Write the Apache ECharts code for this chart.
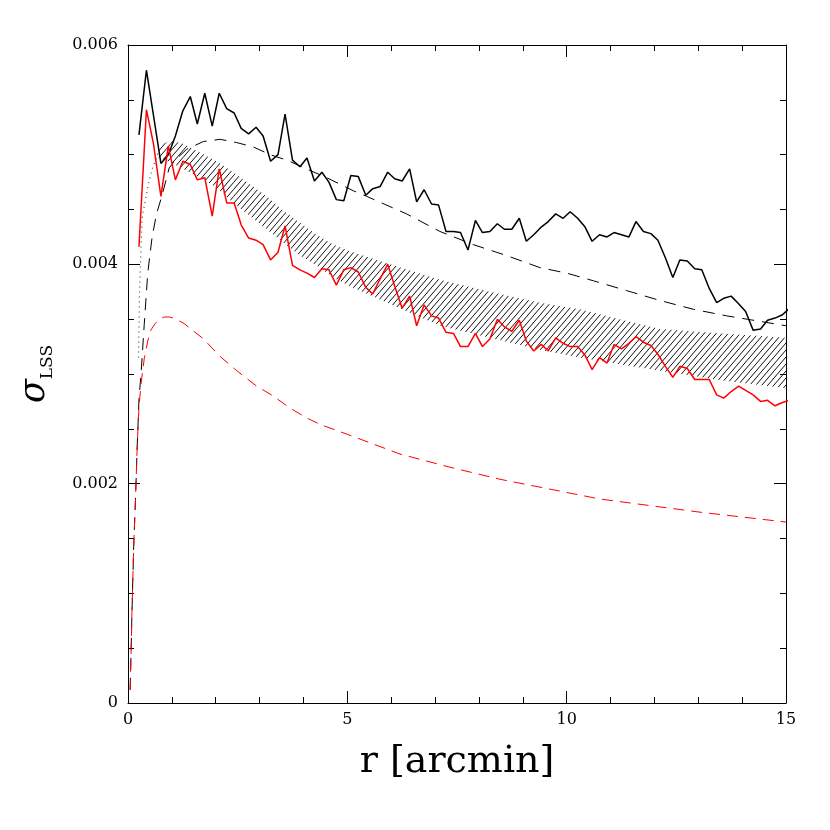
<!DOCTYPE html>
<html><head><meta charset="utf-8">
<script src="https://cdn.jsdelivr.net/npm/echarts@6/dist/echarts.min.js"></script>
<style>html,body{margin:0;padding:0;background:#fff}#c{width:830px;height:830px}</style>
</head><body><div id="c"></div>
<script>
// radii of the measured profiles [arcmin]
const rSim = [0.25,0.42,0.58,0.75,0.92,1.08,1.25,1.42,1.58,1.75,1.92,2.08,2.25,2.42,2.58,2.75,2.92,3.08,3.25,3.42,
3.58,3.75,3.92,4.08,4.25,4.42,4.58,4.75,4.92,5.08,5.25,5.42,5.58,5.75,5.92,6.08,6.25,6.42,6.58,6.75,
6.92,7.08,7.25,7.42,7.58,7.75,7.92,8.08,8.25,8.42,8.58,8.75,8.92,9.08,9.25,9.42,9.58,9.75,9.92,10.08,
10.25,10.42,10.58,10.75,10.92,11.08,11.25,11.42,11.58,11.75,11.92,12.08,12.25,12.42,12.58,12.75,12.92,13.08,13.25,13.42,
13.58,13.75,13.92,14.08,14.25,14.42,14.58,14.75,14.92,15.08];
// black solid
const sigmaBlack = [0.00518,0.00577,0.00536,0.00492,0.00500,0.00517,0.00540,0.00553,0.00528,0.00556,
0.00526,0.00556,0.00542,0.00538,0.00524,0.00519,0.00525,0.00517,0.00494,0.00500,
0.00537,0.00495,0.00489,0.00497,0.00476,0.00484,0.00475,0.00459,0.00458,0.00481,
0.00480,0.00463,0.00469,0.00471,0.00484,0.00478,0.00476,0.00487,0.00457,0.00468,
0.00455,0.00454,0.00430,0.00430,0.00429,0.00413,0.00440,0.00429,0.00430,0.00437,
0.00432,0.00432,0.00442,0.00421,0.00427,0.00434,0.00439,0.00446,0.00442,0.00448,
0.00442,0.00434,0.00421,0.00427,0.00425,0.00429,0.00427,0.00425,0.00439,0.00430,
0.00428,0.00422,0.00406,0.00388,0.00404,0.00403,0.00396,0.00395,0.00378,0.00365,
0.00369,0.00371,0.00364,0.00357,0.00340,0.00341,0.00349,0.00351,0.00354,0.00360];
// red solid
const sigmaRed = [0.00416,0.00541,0.00510,0.00462,0.00508,0.00477,0.00494,0.00491,0.00477,0.00479,
0.00444,0.00487,0.00456,0.00456,0.00436,0.00424,0.00422,0.00418,0.00404,0.00411,
0.00435,0.00399,0.00395,0.00392,0.00388,0.00396,0.00395,0.00381,0.00395,0.00397,
0.00393,0.00379,0.00373,0.00387,0.00400,0.00380,0.00360,0.00371,0.00344,0.00363,
0.00353,0.00351,0.00338,0.00337,0.00325,0.00325,0.00337,0.00325,0.00332,0.00350,
0.00343,0.00339,0.00349,0.00330,0.00321,0.00327,0.00321,0.00333,0.00328,0.00325,
0.00325,0.00317,0.00304,0.00315,0.00310,0.00327,0.00323,0.00328,0.00334,0.00329,
0.00326,0.00318,0.00307,0.00297,0.00307,0.00305,0.00295,0.00295,0.00295,0.00281,
0.00278,0.00284,0.00289,0.00285,0.00281,0.00275,0.00276,0.00271,0.00274,0.00276];
// black dashed model
const modelBlackR = [0.05,0.09,0.13,0.17,0.21,0.25,0.30,0.37,0.45,0.55,0.65,0.77,0.94,1.10,1.34,1.72,2.10,2.48,2.86,3.24,
3.62,4.07,4.53,5.14,5.44,6.35,7.11,7.87,8.63,9.39,10.0,10.61,11.37,12.13,12.89,13.65,14.41,15.0];
const modelBlack = [0.00012,0.00082,0.00143,0.00185,0.00234,0.00277,0.00302,0.00345,0.00392,0.00425,0.00446,0.00462,0.00488,0.00496,0.00505,0.00512,0.00514,0.00511,0.00507,0.00500,
0.00495,0.00487,0.00479,0.00467,0.00462,0.00446,0.00430,0.00418,0.00408,0.00397,0.00392,0.00385,0.00376,0.00367,0.00359,0.00353,0.00348,0.00344];
// red dashed model
const modelRedR = [0.05,0.09,0.13,0.17,0.21,0.25,0.30,0.37,0.45,0.52,0.62,0.72,0.83,0.95,1.09,1.28,1.72,2.10,2.48,2.93,
3.31,3.69,4.07,4.38,5.0,6.2,7.34,8.48,10.0,10.76,13.04,15.0];
const modelRed = [0.00012,0.00082,0.00143,0.00185,0.00234,0.00270,0.00292,0.00314,0.00330,0.00340,0.00346,0.00350,0.00352,0.00352,0.00350,0.00346,0.00332,0.00316,0.00303,0.00289,
0.00280,0.00269,0.00260,0.00254,0.00245,0.00227,0.00215,0.00204,0.00192,0.00186,0.00174,0.00165];
// hatched band
const bandR  = [0.70,0.96,1.26,1.64,2.02,2.40,2.78,3.16,3.54,3.92,4.30,4.68,5.06,5.74,7.11,8.25,9.39,10.30,11.21,12.13,13.56,15.0];
const bandHi = [0.00508,0.00513,0.00510,0.00502,0.00494,0.00484,0.00473,0.00462,0.00449,0.00438,0.00427,0.00418,0.00412,0.00403,0.00386,0.00375,0.00365,0.00359,0.00350,0.00341,0.00337,0.00333];
const bandLo = [0.00497,0.00493,0.00487,0.00479,0.00470,0.00456,0.00444,0.00432,0.00420,0.00408,0.00399,0.00388,0.00380,0.00368,0.00344,0.00333,0.00322,0.00315,0.00309,0.00303,0.00294,0.00287];
// dotted curve
const dotR = [0.24,0.26,0.30,0.33,0.39,0.45,0.50,0.56,0.63,0.70];
const dotV = [0.00315,0.00370,0.00420,0.00445,0.00457,0.00470,0.00479,0.00488,0.00495,0.00504];
// tick labels
const xTickLabels = {0:'0',5:'5',10:'10',15:'15'};
const yTickLabels = {0:'0',0.002:'0.002',0.004:'0.004',0.006:'0.006'};

const zip = (a,b) => a.map((v,i)=>[v,b[i]]);
const serif = "'DejaVu Serif', 'Liberation Serif', serif";

function hatchCanvas(){
  const c = document.createElement('canvas'); c.width = 6; c.height = 7;
  const g = c.getContext('2d');
  g.strokeStyle = '#111'; g.lineWidth = 1;
  g.beginPath();
  g.moveTo(0,7); g.lineTo(6,0);
  g.moveTo(-1,1.17); g.lineTo(1,-1.17);
  g.moveTo(5,8.17); g.lineTo(7,5.83);
  g.stroke();
  return c;
}
const hatch = hatchCanvas();

const chart = echarts.init(document.getElementById('c'), null, {renderer:'canvas'});
const axCommon = {
  axisLine:{show:true,onZero:false,lineStyle:{color:'#000',width:1}},
  axisTick:{show:true,inside:true,length:12,lineStyle:{color:'#000',width:1}},
  splitLine:{show:false}
};
chart.setOption({
  animation:false,
  backgroundColor:'#fff',
  grid:{left:128,right:44,top:45,bottom:127,containLabel:false},
  xAxis:[
    Object.assign({type:'value',min:0,max:15,interval:5,position:'bottom',
      minorTick:{show:true,splitNumber:5,length:6,lineStyle:{color:'#000'}},
      axisLabel:{color:'#000',fontFamily:serif,fontSize:16,margin:9,formatter:v=>xTickLabels[v]},
      name:'r [arcmin]',nameLocation:'middle',nameGap:40,
      nameTextStyle:{fontFamily:serif,fontSize:38,color:'#000'}},axCommon),
    Object.assign({type:'value',min:0,max:15,interval:5,position:'top',
      minorTick:{show:true,splitNumber:5,length:6,lineStyle:{color:'#000'}},
      axisLabel:{show:false}},axCommon)
  ],
  yAxis:[
    Object.assign({type:'value',min:0,max:0.006,interval:0.002,position:'left',
      minorTick:{show:true,splitNumber:4,length:6,lineStyle:{color:'#000'}},
      axisLabel:{color:'#000',fontFamily:serif,fontSize:16,margin:10,formatter:v=>yTickLabels[v] ?? String(v)},
      name:'{s|σ}{b|LSS}',nameLocation:'middle',nameRotate:90,nameGap:76,
      nameTextStyle:{rich:{
        s:{fontFamily:serif,fontStyle:'italic',fontSize:35,color:'#000'},
        b:{fontFamily:serif,fontSize:17,color:'#000',verticalAlign:'bottom',padding:[0,0,-4,0]}
      }}},axCommon),
    Object.assign({type:'value',min:0,max:0.006,interval:0.002,position:'right',
      minorTick:{show:true,splitNumber:4,length:6,lineStyle:{color:'#000'}},
      axisLabel:{show:false}},axCommon)
  ],
  series:[
    {type:'custom',xAxisIndex:0,yAxisIndex:0,clip:true,z:1,
     data:bandR.map((r,i)=>[r,bandLo[i],bandHi[i]]),
     encode:{x:0,y:[1,2]},
     renderItem:(params,api)=>{
       const i = params.dataIndex;
       if (i >= bandR.length-1) return null;
       const pts = [api.coord([bandR[i],bandLo[i]]),api.coord([bandR[i+1],bandLo[i+1]]),
                    api.coord([bandR[i+1],bandHi[i+1]]),api.coord([bandR[i],bandHi[i]])];
       return {type:'polygon',shape:{points:pts},style:{fill:{image:hatch,repeat:'repeat'},stroke:null}};
     }},
    {type:'line',data:zip(dotR,dotV),symbol:'none',z:2,
     lineStyle:{color:'#444',width:1.2,type:[1,4]}},
    {type:'line',data:zip(modelBlackR,modelBlack),symbol:'none',z:3,
     lineStyle:{color:'#000',width:1,type:[12,8]}},
    {type:'line',data:zip(modelRedR,modelRed),symbol:'none',z:3,
     lineStyle:{color:'#ff0000',width:1,type:[11,7]}},
    {type:'line',data:zip(rSim,sigmaBlack),symbol:'none',z:4,clip:true,
     lineStyle:{color:'#000',width:1.5}},
    {type:'line',data:zip(rSim,sigmaRed),symbol:'none',z:4,clip:true,
     lineStyle:{color:'#ff0000',width:1.5}}
  ]
});
</script></body></html>
